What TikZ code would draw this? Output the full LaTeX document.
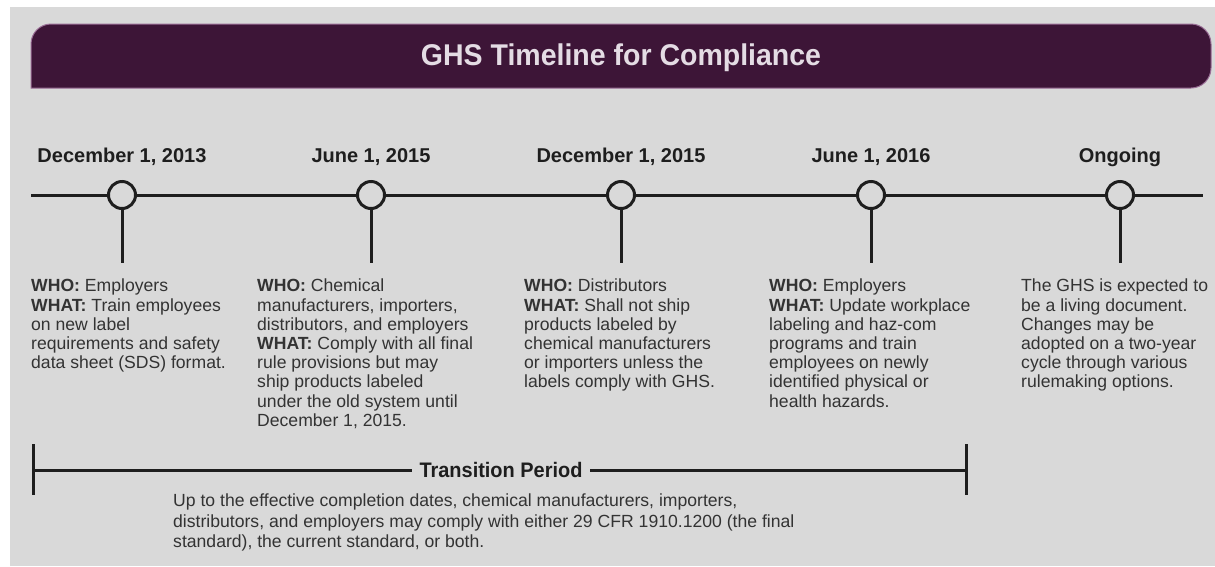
\documentclass[tikz,border=0pt]{standalone}
\usepackage{fontspec}
\setmainfont{Liberation Sans}
\usepackage{graphicx}
\usepackage{tikz}
\usetikzlibrary{
    positioning,  % better custom positioning
}
\definecolor{bggray}{HTML}{D9D9D9}
\definecolor{plum}{HTML}{3D1537}
\definecolor{plumedge}{HTML}{9A6E96}
\definecolor{ink}{HTML}{1E1E1E}
\definecolor{txt}{HTML}{333333}
\definecolor{titletxt}{HTML}{E4DCE4}
\tikzset{
    circ/.style={circle, draw=ink, line width=3pt, fill=bggray, minimum size=27pt, inner sep=0pt},
    axis/.style={draw=ink, line width=3pt},
    datelbl/.style={anchor=base, inner sep=0pt, text=ink, font=\bfseries\fontsize{20}{24}\selectfont},
    info/.style={anchor=north west, inner sep=0pt, align=left, text=txt, font=\fontsize{17.6}{19.2}\selectfont},
}

\begin{document}
\begin{tikzpicture}[x=1pt, y=-1pt]
    \useasboundingbox (0,0) rectangle (1215,566);
    \fill[white] (0,0) rectangle (1215,566);
    \fill[bggray] (10,7) rectangle (1215,566);

    % banner
    \draw[plumedge, fill=plum, line width=1pt] (31,88) [rounded corners=20pt] -- (31,24) -- (1211,24) -- (1211,88) [sharp corners] -- cycle;
    \node[anchor=base, inner sep=0pt, text=titletxt, font=\bfseries\fontsize{30}{36}\selectfont] (title) at (621,65) {\scalebox{0.95}[1]{GHS Timeline for Compliance}};

    % timeline
    \coordinate (tl) at (31,195);
    \coordinate (tr) at (1203,195);
    \draw[axis] (tl) -- (tr);

    \node[circ] (d1) at (122,195) {};
    \node[circ] (d2) at (371,195) {};
    \node[circ] (d3) at (621,195) {};
    \node[circ] (d4) at (871,195) {};
    \node[circ] (d5) at (1120,195) {};

    \coordinate (s1) at (122,263);
    \coordinate (s2) at (371,263);
    \coordinate (s3) at (621,263);
    \coordinate (s4) at (871,263);
    \coordinate (s5) at (1120,263);
    \draw[axis] (d1.south) -- (s1);
    \draw[axis] (d2.south) -- (s2);
    \draw[axis] (d3.south) -- (s3);
    \draw[axis] (d4.south) -- (s4);
    \draw[axis] (d5.south) -- (s5);

    \node[datelbl] (l1) at (122,162) {December 1, 2013};
    \node[datelbl] (l2) at (371,162) {June 1, 2015};
    \node[datelbl] (l3) at (621,162) {December 1, 2015};
    \node[datelbl] (l4) at (871,162) {June 1, 2016};
    \node[datelbl] (l5) at (1120,162) {Ongoing};

    \node[info] (t1) at (31,279) {\textbf{WHO:} Employers\\
        \textbf{WHAT:} Train employees\\
        on new label\\
        requirements and safety\\
        data sheet (SDS) format.};
    \node[info] (t2) at (257,279) {\textbf{WHO:} Chemical\\
        manufacturers, importers,\\
        distributors, and employers\\
        \textbf{WHAT:} Comply with all final\\
        rule provisions but may\\
        ship products labeled\\
        under the old system until\\
        December 1, 2015.};
    \node[info] (t3) at (524,279) {\textbf{WHO:} Distributors\\
        \textbf{WHAT:} Shall not ship\\
        products labeled by\\
        chemical manufacturers\\
        or importers unless the\\
        labels comply with GHS.};
    \node[info] (t4) at (769,279) {\textbf{WHO:} Employers\\
        \textbf{WHAT:} Update workplace\\
        labeling and haz-com\\
        programs and train\\
        employees on newly\\
        identified physical or\\
        health hazards.};
    \node[info] (t5) at (1021,279) {The GHS is expected to\\
        be a living document.\\
        Changes may be\\
        adopted on a two-year\\
        cycle through various\\
        rulemaking options.};

    % transition period
    \coordinate (pl) at (33,470);
    \coordinate (pr) at (966,470);
    \coordinate (pl1) at (33,444);
    \coordinate (pl2) at (33,495);
    \coordinate (pr1) at (966,444);
    \coordinate (pr2) at (966,495);
    \draw[axis] (pl) -- (pr);
    \draw[axis] (pl1) -- (pl2);
    \draw[axis] (pr1) -- (pr2);
    \node[anchor=base, fill=bggray, inner xsep=8pt, inner ysep=2pt, text=ink, font=\bfseries\fontsize{21}{25}\selectfont] (trans) at (501,477) {\scalebox{0.95}[1]{Transition Period}};

    \node[info, font=\fontsize{17.6}{20.3}\selectfont] (note) at (173,494) {Up to the effective completion dates, chemical manufacturers, importers,\\
        distributors, and employers may comply with either 29 CFR 1910.1200 (the final\\
        standard), the current standard, or both.};
\end{tikzpicture}
\end{document}
